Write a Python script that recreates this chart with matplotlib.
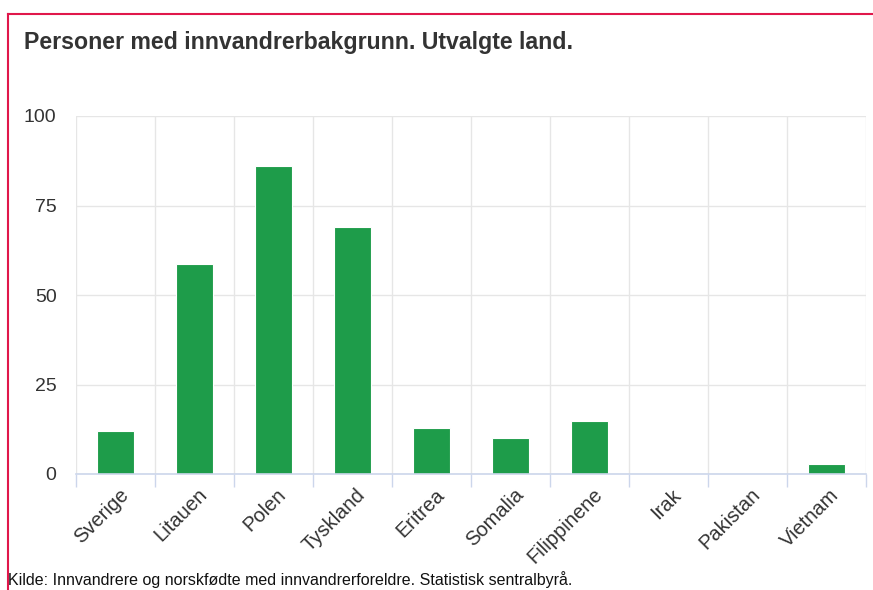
import matplotlib.pyplot as plt
from matplotlib.lines import Line2D

land = ["Sverige", "Litauen", "Polen", "Tyskland", "Eritrea", "Somalia",
        "Filippinene", "Irak", "Pakistan", "Vietnam"]
verdier = [12, 58.7, 86, 69, 12.8, 10, 14.8, 0, 0, 2.8]

plt.rcParams['font.family'] = ['Liberation Sans', 'DejaVu Sans']

fig = plt.figure(figsize=(8.73, 5.9), dpi=100)
W, H = 873, 590
ax = fig.add_axes([76 / W, 1 - 474 / H, 790 / W, 358 / H])

x = list(range(len(land)))
ax.bar(x, verdier, width=0.48, color="#1e9c4a", edgecolor="#ffffff", linewidth=0.8, zorder=3)

ax.set_xlim(-0.5, len(land) - 0.5)
ax.set_ylim(0, 100)
ax.set_yticks([0, 25, 50, 75, 100])
ax.tick_params(axis='y', length=0, labelsize=14, colors="#333333", pad=14)

# gridlines at category boundaries
for b in range(len(land) + 1):
    ax.axvline(b - 0.5, color="#e6e6e6", linewidth=1, zorder=1)
ax.grid(axis='y', color="#e6e6e6", linewidth=1, zorder=1)
for s in ax.spines.values():
    s.set_visible(False)
ax.axhline(0, color="#ccd6eb", linewidth=1.2, zorder=4, clip_on=False)

ax.set_xticks([b - 0.5 for b in range(len(land) + 1)])
ax.set_xticklabels([])
ax.tick_params(axis='x', length=9.5, color="#ccd6eb", width=1)
for i, name in enumerate(land):
    ax.annotate(name, xy=(i + 0.04, 0), xycoords=('data', 'axes fraction'),
                xytext=(0, -8), textcoords='offset points',
                rotation=45, ha='right', va='top', rotation_mode='anchor',
                fontsize=14.5, color="#333333")

fig.text(24 / W, 1 - 42 / H, "Personer med innvandrerbakgrunn. Utvalgte land.",
         fontsize=16.7, fontweight='bold', color="#333333", va='center')
fig.text(8 / W, 1 - 585 / H,
         "Kilde: Innvandrere og norskfødte med innvandrerforeldre. Statistisk sentralbyrå.",
         fontsize=11.5, color="#111111", va='baseline')

red = "#e0174b"
fig.add_artist(Line2D([8 / W, 1], [1 - 14 / H, 1 - 14 / H], color=red, linewidth=1.5,
                      transform=fig.transFigure))
fig.add_artist(Line2D([8 / W, 8 / W], [1 - 14 / H, 0], color=red, linewidth=1.5,
                      transform=fig.transFigure))

fig.savefig("out.png", dpi=100)
